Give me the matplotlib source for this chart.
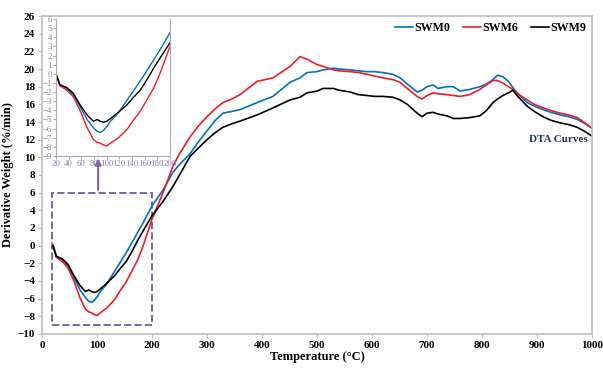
import matplotlib.pyplot as plt
from matplotlib.patches import Rectangle

plt.rcParams['font.family'] = ['Liberation Serif', 'DejaVu Serif']

# temperature grid (°C) and derivative weight (%/min)
temp = [20, 26, 37, 47, 58, 69, 79, 85, 90, 95,
        100, 106, 117, 132, 142, 153, 164, 174, 184, 200,
        220, 238, 250, 269, 285, 300, 315, 329, 345, 360,
        391, 420, 451, 469, 482, 500, 511, 530, 540, 560,
        575, 591, 605, 620, 638, 651, 664, 682, 691, 700,
        711, 720, 736, 748, 760, 778, 796, 808, 820, 828,
        838, 848, 856, 865, 882, 895, 911, 925, 942, 958,
        973, 985, 1000]
swm0 = [0.0, -1.2, -1.6, -2.3, -3.6, -5.0, -5.9, -6.3, -6.4, -6.2,
        -5.8, -5.2, -4.4, -2.9, -1.9, -0.8, 0.4, 1.5, 2.6, 4.5,
        6.3, 8.3, 9.2, 10.4, 11.8, 13.0, 14.2, 15.0, 15.2, 15.4,
        16.2, 16.9, 18.5, 19.0, 19.6, 19.7, 19.9, 20.1, 20.0, 19.9,
        19.8, 19.7, 19.7, 19.6, 19.4, 19.0, 18.3, 17.4, 17.6, 18.0,
        18.2, 17.8, 18.0, 18.0, 17.5, 17.7, 18.0, 18.3, 18.8, 19.3,
        19.1, 18.6, 17.9, 17.2, 16.2, 15.8, 15.4, 15.1, 14.8, 14.6,
        14.3, 13.9, 13.3]
swm6 = [0.0, -1.3, -1.8, -2.5, -4.0, -5.9, -7.2, -7.5, -7.6, -7.8,
        -7.9, -7.6, -7.1, -6.1, -5.1, -4.1, -2.8, -1.6, 0.0, 3.0,
        6.0, 9.0, 10.4, 12.3, 13.6, 14.6, 15.5, 16.2, 16.6, 17.1,
        18.6, 19.0, 20.3, 21.4, 21.1, 20.5, 20.3, 19.9, 19.8, 19.7,
        19.6, 19.4, 19.2, 19.0, 18.8, 18.5, 17.8, 16.9, 16.6, 17.0,
        17.3, 17.2, 17.1, 17.0, 16.9, 17.1, 17.7, 18.2, 18.7, 18.7,
        18.4, 18.0, 17.7, 17.2, 16.5, 16.0, 15.6, 15.3, 15.0, 14.8,
        14.5, 14.0, 13.3]
swm9 = [0.0, -1.2, -1.5, -2.1, -3.4, -4.5, -5.2, -5.0, -5.2, -5.3,
        -5.2, -4.9, -4.3, -3.4, -2.6, -1.8, -0.6, 0.6, 1.7, 3.4,
        5.0, 6.7, 8.0, 10.1, 11.1, 12.0, 12.8, 13.4, 13.8, 14.1,
        14.8, 15.6, 16.5, 16.8, 17.3, 17.5, 17.8, 17.8, 17.6, 17.4,
        17.1, 17.0, 16.9, 16.9, 16.8, 16.5, 16.0, 15.0, 14.6, 15.0,
        15.1, 14.9, 14.7, 14.4, 14.4, 14.5, 14.7, 15.3, 16.2, 16.6,
        17.0, 17.3, 17.6, 16.9, 15.8, 15.2, 14.6, 14.2, 13.9, 13.7,
        13.4, 13.0, 12.4]

labels = ['SWM0', 'SWM6', 'SWM9']
colors = ['#0070C0', '#EE1C25', '#000000']
series = [swm0, swm6, swm9]

grey = '#BFBFBF'
purple = '#8064A2'

fig = plt.figure(figsize=(6.03, 3.69), dpi=100)
ax = fig.add_axes([0.0697, 0.0949, 0.9121, 0.8617])

for vals, lab, col in zip(series, labels, colors):
    ax.plot(temp, vals, color=col, lw=1.2, label=lab)

ax.set_xlim(0, 1000)
ax.set_ylim(-10, 26)
ax.set_xticks(range(0, 1001, 100))
ax.set_yticks(range(-10, 27, 2))
for sp in ax.spines.values():
    sp.set_color(grey)
    sp.set_linewidth(1.2)
ax.tick_params(colors=grey, labelcolor='black', labelsize=8, length=3, pad=2)
for t in ax.get_xticklabels() + ax.get_yticklabels():
    t.set_fontweight('bold')

ax.set_xlabel('Temperature (°C)', fontsize=9, fontweight='bold', labelpad=1)
ax.set_ylabel('Derivative Weight (%/min)', fontsize=9, fontweight='bold', labelpad=3)

ax.legend(loc='upper right', ncol=3, frameon=False, handlelength=1.5,
          handletextpad=0.1, columnspacing=1.1, borderaxespad=0.1,
          prop={'weight': 'bold', 'size': 8.6})

ax.text(993, 12.0, 'DTA Curves', color='#1F3864', fontsize=8, fontweight='bold',
        ha='right', va='center')

# dashed zoom box and arrow to the inset
ax.add_patch(Rectangle((18, -9), 182, 15, fill=False, ec=purple, ls='--', lw=1.4))
ax.annotate('', xy=(102, 10.2), xytext=(102, 6),
            arrowprops=dict(arrowstyle='-|>', color=purple, lw=1.5, mutation_scale=9))

# inset
ins = fig.add_axes([0.0929, 0.5772, 0.189, 0.3713])
for vals, col in zip(series, colors):
    ins.plot(temp, vals, color=col, lw=1.0)
ins.set_xlim(20, 200)
ins.set_ylim(-9, 6)
ins.set_xticks(range(20, 201, 20))
ins.set_yticks(range(-9, 7, 1))
ins.spines['top'].set_visible(False)
for s in ['left', 'right', 'bottom']:
    ins.spines[s].set_color('#B3A2C7')
ins.tick_params(colors='#B3A2C7', labelcolor='#8C7BB5', labelsize=6.3, length=2, pad=1)

fig.savefig('out.png', dpi=100)
